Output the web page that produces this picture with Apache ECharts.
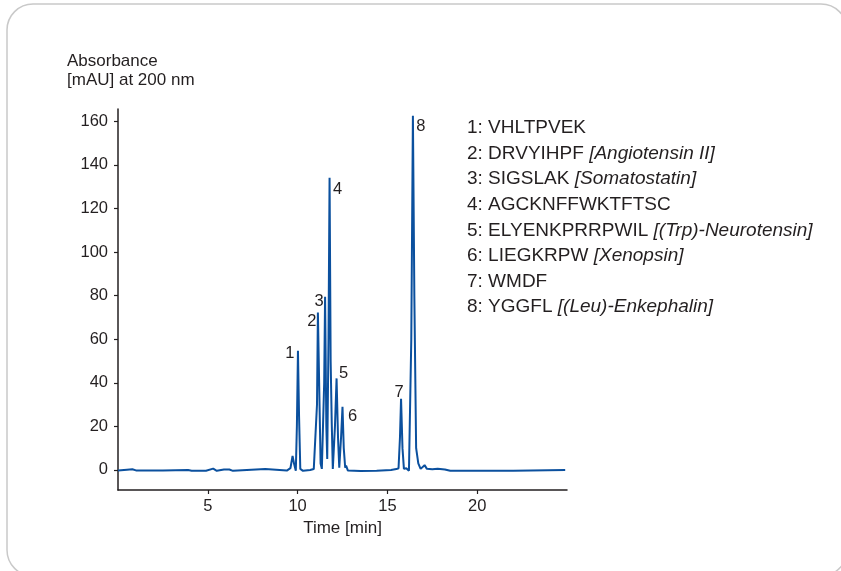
<!DOCTYPE html>
<html>
<head>
<meta charset="utf-8">
<script src="https://cdn.jsdelivr.net/npm/echarts@6/dist/echarts.min.js"></script>
<style>html,body{margin:0;padding:0;background:#fff;}#c{width:841px;height:571px;}</style>
</head>
<body>
<div id="c"></div>
<script>
// Chromatogram trace: time [min] and absorbance [mAU]
var times = [0.0,0.5,0.8,1.0,2.5,3.9,4.1,4.9,5.3,5.5,5.9,6.0,6.2,6.4,8.2,8.3,9.4,9.6,9.72,9.8,9.9,
  9.96,10.02,10.08,10.15,10.3,10.7,10.9,11.0,11.08,11.13,11.2,11.28,11.35,11.48,11.53,11.6,11.65,
  11.72,11.78,11.84,11.9,11.96,12.08,12.17,12.25,12.32,12.42,12.5,12.57,12.65,12.7,12.8,13.5,14.4,
  15.2,15.5,15.62,15.7,15.76,15.84,15.92,16.05,16.2,16.28,16.33,16.42,16.5,16.6,16.72,16.85,17.07,
  17.2,17.5,17.8,18.2,18.5,22.0,24.9];
var absorbance = [-0.3,0.1,0.3,-0.2,-0.3,0.0,-0.4,-0.4,0.6,-0.4,0.2,-0.4,0.2,-0.4,0.4,-0.4,-0.3,0.8,6.4,3.0,-0.4,
  20,54.7,25,0.5,-0.4,0.0,0.4,-0.4,30,72.2,40,3.0,0.5,40,79.5,20,5.0,
  60,134,50,22,0.5,20,42,15,1.0,15,29,10,1.0,2.0,-0.3,-0.5,-0.4,
  0.0,0.4,0.8,15,32.6,10,0.5,0.8,-0.4,0.5,60,162.5,80,10,3.0,0.5,2.2,
  0.5,0.3,0.5,0.2,-0.4,-0.4,0.0];

// Peak annotations
var peakTimes = [10.02, 11.13, 11.53, 11.78, 12.17, 12.5, 15.76, 16.42];
var peakValues = [54.7, 72.2, 79.5, 134, 42, 29, 32.6, 162.5];
var peakLabels = ['1','2','3','4','5','6','7','8'];

// Compound list
var compoundSeq = ['1: VHLTPVEK','2: DRVYIHPF','3: SIGSLAK','4: AGCKNFFWKTFTSC','5: ELYENKPRRPWIL','6: LIEGKRPW','7: WMDF','8: YGGFL'];
var compoundName = ['','[Angiotensin II]','[Somatostatin]','','[(Trp)-Neurotensin]','[Xenopsin]','','[(Leu)-Enkephalin]'];

// Axis ticks
var xTicks = [5, 10, 15, 20];
var yTicks = [0, 20, 40, 60, 80, 100, 120, 140, 160];

var FONT = 'Liberation Sans';
var TXT = '#231f20';
var BLUE = '#0b509e';

var labelOffsets = [[-8,3],[-6,9],[-6,5],[8,12],[7,-5],[10,10],[-2,-6],[8,11]];

var trace = times.map(function(t, i){ return [t, absorbance[i]]; });
var peaks = peakTimes.map(function(t, i){
  return {value: [t, peakValues[i]], name: peakLabels[i],
    label: {offset: labelOffsets[i]}};
});

var graphics = [
  {type:'rect', shape:{x:7, y:4, width:840, height:572, r:26}, silent:true,
   style:{fill:'none', stroke:'#c9c9c9', lineWidth:1.5}},
  {type:'text', left:67, top:53, style:{text:'Absorbance', font:'17px "' + FONT + '"', fill:TXT}},
  {type:'text', left:67, top:72, style:{text:'[mAU] at 200 nm', font:'17px "' + FONT + '"', fill:TXT}}
];
compoundSeq.forEach(function(s, i){
  var txt = '{n|' + s + '}' + (compoundName[i] ? '{n| }{it|' + compoundName[i] + '}' : '');
  graphics.push({type:'text', left:467, top: 118.5 + i*25.6,
    style:{text: txt, fill: TXT,
      rich:{n:{fontSize:19, fontFamily:FONT, fill:TXT}, it:{fontSize:19, fontFamily:FONT, fontStyle:'italic', fill:TXT}}}});
});

var chart = echarts.init(document.getElementById('c'));
chart.setOption({
  animation:false,
  backgroundColor:'#fff',
  grid:{left:118, right:274, top:109, bottom:81, containLabel:false},
  xAxis:{type:'value', min:0, max:25,
    name:'Time [min]', nameLocation:'middle', nameGap:28,
    nameTextStyle:{fontFamily:FONT, fontSize:17, color:TXT},
    axisLine:{onZero:false, lineStyle:{color:'#231f20', width:1.5}},
    axisTick:{show:true, customValues:xTicks, length:4, lineStyle:{color:'#231f20', width:1.2}},
    axisLabel:{customValues:xTicks, margin:8, fontFamily:FONT, fontSize:16.5, color:TXT},
    splitLine:{show:false}},
  yAxis:{type:'value', min:-9.2, max:165.6,
    axisLine:{show:true, onZero:false, lineStyle:{color:'#231f20', width:1.5}},
    axisTick:{show:true, customValues:yTicks, length:4, lineStyle:{color:'#231f20', width:1.2}},
    axisLabel:{customValues:yTicks, margin:10, fontFamily:FONT, fontSize:16.5, color:TXT},
    splitLine:{show:false}},
  graphic: graphics,
  series:[
    {type:'line', data:trace, showSymbol:false, symbol:'none',
     lineStyle:{color:BLUE, width:2}, z:3},
    {type:'scatter', data:peaks, symbolSize:1, itemStyle:{color:'rgba(0,0,0,0)', opacity:1},
     label:{show:true, position:'inside', formatter:'{b}', fontFamily:FONT, fontSize:16.5, color:TXT, opacity:1}, z:4}
  ]
});
</script>
</body>
</html>
